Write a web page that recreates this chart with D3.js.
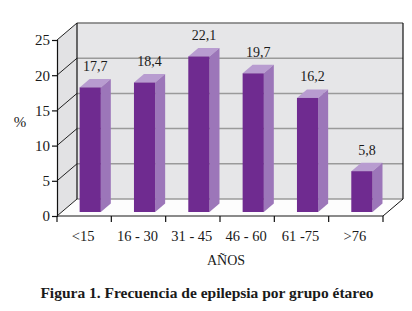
<!DOCTYPE html>
<html>
<head>
  <meta charset="utf-8">
  <title>Frecuencia de epilepsia</title>
  <script src="https://d3js.org/d3.v7.min.js"></script>
  <style>
    body { margin: 0; background: #fff; }
    text { font-family: 'Liberation Serif', 'Times New Roman', serif; fill: #1a1a1a; }
  </style>
</head>
<body>
  <div id="chart"></div>
  <script>
    const categories = ["<15", "16 - 30", "31 - 45", "46 - 60", "61 -75", ">76"];
    const values = [17.7, 18.4, 22.1, 19.7, 16.2, 5.8];
    const valueLabels = ["17,7", "18,4", "22,1", "19,7", "16,2", "5,8"];
    const yTicks = [0, 5, 10, 15, 20, 25];

    const W = 412, H = 311;
    const DX = 20, DY = -17; // 3d depth offset

    const svg = d3.select("#chart").append("svg")
      .attr("width", W).attr("height", H);

    const y = d3.scaleLinear().domain([0, 25]).range([216, 40]);
    const x = d3.scaleBand().domain(categories).range([57, 383]);

    const x0 = x.range()[0], x1 = x.range()[1];
    const yb = y(0), yt = y(25);

    // left side wall
    svg.append("polygon")
      .attr("points", [[x0, yb], [x0, yt], [x0 + DX, yt + DY], [x0 + DX, yb + DY]].join(" "))
      .attr("fill", "#e2e2e4");
    // back wall
    svg.append("rect")
      .attr("x", x0 + DX).attr("y", yt + DY)
      .attr("width", x1 - x0).attr("height", yb - yt)
      .attr("fill", "#e6e6e8");
    // floor
    svg.append("polygon")
      .attr("points", [[x0, yb], [x0 + DX, yb + DY], [x1 + DX, yb + DY], [x1, yb]].join(" "))
      .attr("fill", "#fdfdfd");

    // gridlines on back wall + diagonals on side wall
    yTicks.forEach(t => {
      if (t > 0) {
        svg.append("line")
          .attr("x1", x0 + DX).attr("x2", x1 + DX)
          .attr("y1", y(t) + DY).attr("y2", y(t) + DY)
          .attr("stroke", t === 25 ? "#777" : "#9a9a9a").attr("stroke-width", 1.5);
      }
      svg.append("line")
        .attr("x1", x0).attr("y1", y(t))
        .attr("x2", x0 + DX).attr("y2", y(t) + DY)
        .attr("stroke", "#222").attr("stroke-width", 1);
    });
    svg.append("line")
      .attr("x1", x0 + DX).attr("x2", x1 + DX)
      .attr("y1", yb + DY).attr("y2", yb + DY)
      .attr("stroke", "#9a9a9a").attr("stroke-width", 1.5);

    // back wall edges
    svg.append("line")
      .attr("x1", x0 + DX).attr("x2", x0 + DX)
      .attr("y1", yt + DY).attr("y2", yb + DY)
      .attr("stroke", "#111").attr("stroke-width", 1.2);
    svg.append("line")
      .attr("x1", x1 + DX).attr("x2", x1 + DX)
      .attr("y1", yt + DY).attr("y2", yb + DY)
      .attr("stroke", "#111").attr("stroke-width", 1.2);
    svg.append("line")
      .attr("x1", x1).attr("y1", yb)
      .attr("x2", x1 + DX).attr("y2", yb + DY)
      .attr("stroke", "#111").attr("stroke-width", 1);

    // bars
    const d0 = 0.235, bd = 0.5;
    const bw = x.bandwidth() * 0.39, boff = x.bandwidth() * 0.33;
    const bars = svg.append("g");
    categories.forEach((c, i) => {
      const fx = x(c) + boff + d0 * DX;
      const fyb = yb + d0 * DY;
      const fyt = y(values[i]) + d0 * DY;
      const ddx = bd * DX, ddy = bd * DY;
      // top
      bars.append("polygon")
        .attr("points", [[fx, fyt], [fx + ddx, fyt + ddy], [fx + bw + ddx, fyt + ddy], [fx + bw, fyt]].join(" "))
        .attr("fill", "#b89cd0");
      // side
      bars.append("polygon")
        .attr("points", [[fx + bw, fyt], [fx + bw + ddx, fyt + ddy], [fx + bw + ddx, fyb + ddy], [fx + bw, fyb]].join(" "))
        .attr("fill", "#9c76b9");
      // front
      bars.append("rect")
        .attr("x", fx).attr("y", fyt)
        .attr("width", bw).attr("height", fyb - fyt)
        .attr("fill", "#6f2b90");
      // value label
      svg.append("text")
        .attr("x", fx + (bw + ddx) / 2)
        .attr("y", fyt + ddy - 8)
        .attr("text-anchor", "middle")
        .attr("font-size", 14)
        .text(valueLabels[i]);
    });

    // front floor edge (x axis)
    svg.append("line")
      .attr("x1", x0).attr("x2", x1).attr("y1", yb).attr("y2", yb)
      .attr("stroke", "#8a8a8a").attr("stroke-width", 2);
    const xTickPos = categories.map(c => x(c)).concat([x1]);
    xTickPos.forEach(p => {
      svg.append("line")
        .attr("x1", p).attr("x2", p).attr("y1", yb).attr("y2", yb + 6)
        .attr("stroke", "#111").attr("stroke-width", 1.2);
    });
    svg.selectAll("text.xlab").data(categories).enter().append("text")
      .attr("class", "xlab")
      .attr("x", d => x(d) + x.bandwidth() / 2 - 1)
      .attr("y", 241)
      .attr("text-anchor", "middle")
      .attr("font-size", 14.5)
      .text(d => d);

    // y axis
    const yAxis = d3.axisLeft(y).tickValues(yTicks).tickSize(5).tickFormat(d3.format("d"));
    const ya = svg.append("g").attr("transform", `translate(${x0},0)`).call(yAxis);
    ya.select(".domain").attr("stroke", "#111").attr("stroke-width", 1.2);
    ya.selectAll(".tick line").attr("stroke", "#111").attr("stroke-width", 1.2);
    ya.selectAll(".tick text")
      .attr("font-family", "'Liberation Serif', serif")
      .attr("font-size", 15).attr("fill", "#1a1a1a").attr("x", -7);

    svg.append("text").attr("x", 20).attr("y", 127)
      .attr("text-anchor", "middle").attr("font-size", 15).text("%");
    svg.append("text").attr("x", 226).attr("y", 265)
      .attr("text-anchor", "middle").attr("font-size", 14).text("AÑOS");
    svg.append("text").attr("x", 207).attr("y", 298)
      .attr("text-anchor", "middle").attr("font-size", 15.5)
      .attr("font-weight", "bold").attr("fill", "#111")
      .text("Figura 1. Frecuencia de epilepsia por grupo étareo");
  </script>
</body>
</html>
